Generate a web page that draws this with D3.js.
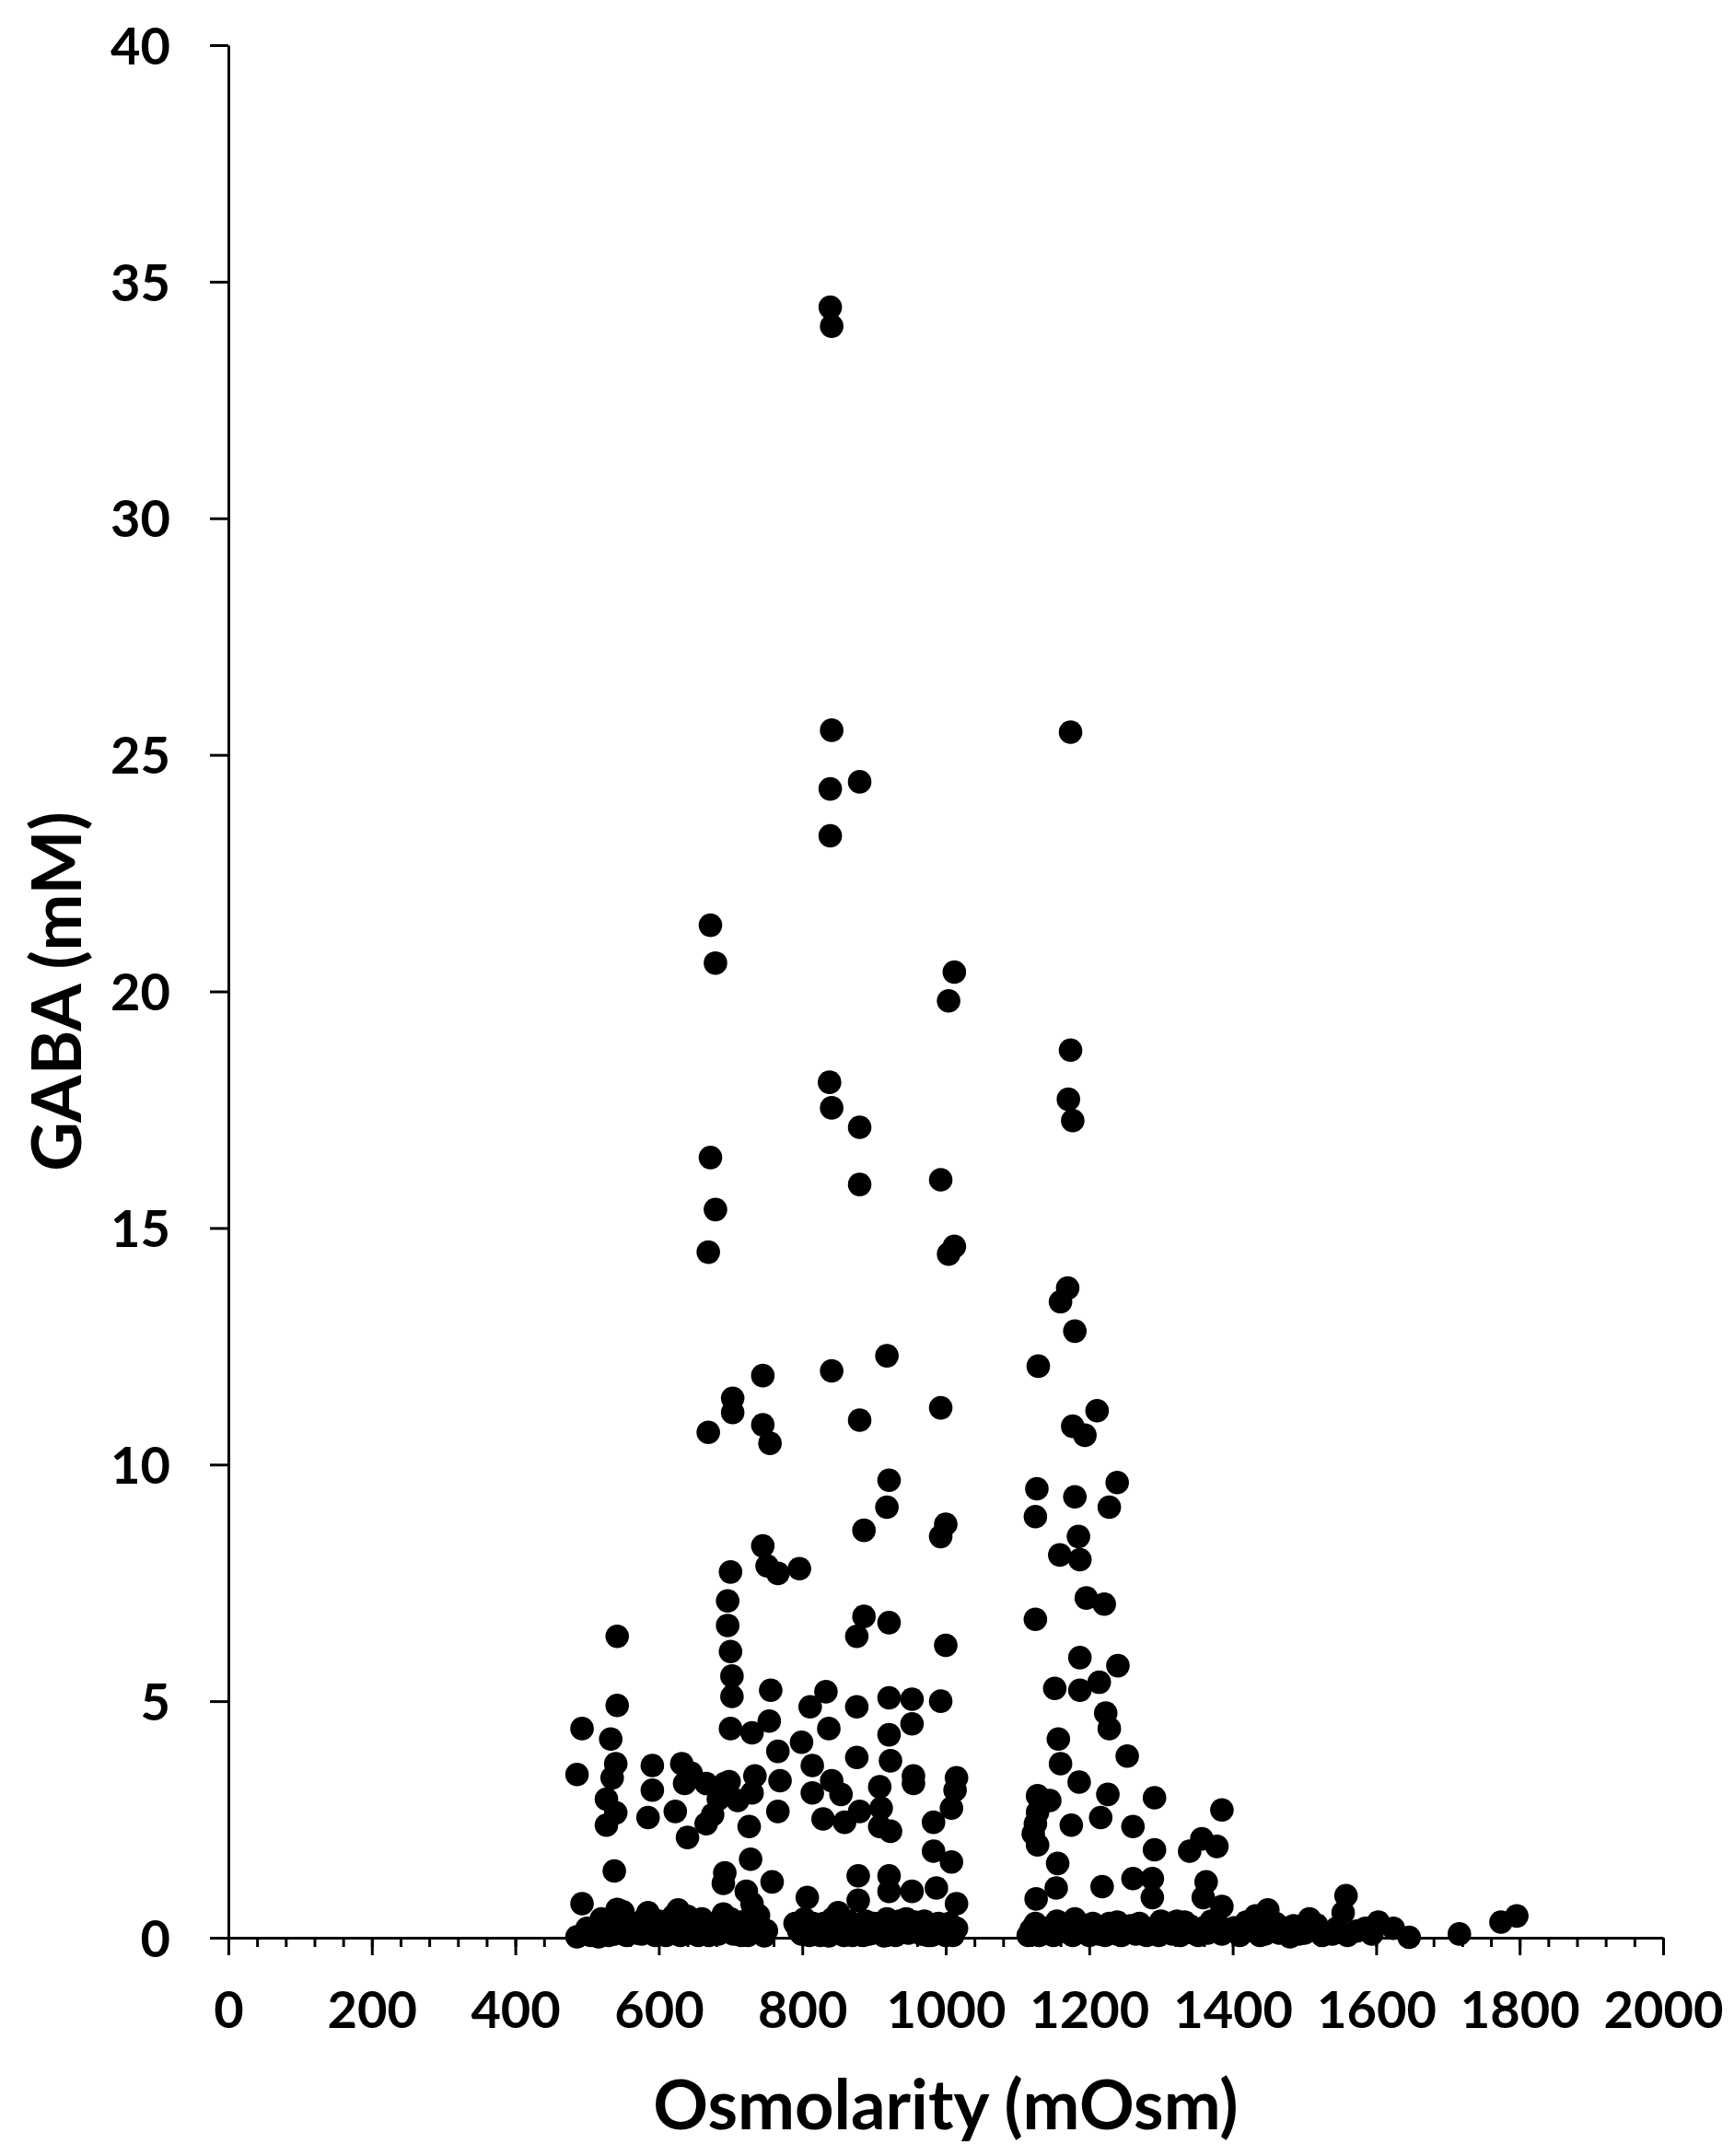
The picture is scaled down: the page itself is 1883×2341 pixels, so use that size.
<!DOCTYPE html>
<html>
<head>
<meta charset="utf-8">
<script src="https://cdn.jsdelivr.net/npm/d3@7"></script>
<style>
  body { margin: 0; background: #fff; }
</style>
</head>
<body>
<div id="wrapper"></div>
<script>
// values, [osmolarity (mOsm), GABA (mM)]
const group500 = [
  [486, 3.45], [493, 4.42], [493, 0.72], [486, 0.02], [516, 0.02], [533, 4.2],
  [540, 3.68], [535, 3.38], [527, 2.93], [540, 2.64], [527, 2.38], [542, 6.37],
  [542, 4.91], [538, 1.41], [542, 0.6], [550, 0.55], [538, 0.08], [527, 0.2],
  [560, 0.15], [500, 0.2], [550, 0.1], [565, 0.3], [591, 3.64], [591, 3.12],
  [585, 2.54], [585, 0.53], [576, 0.08], [602, 0.14], [590, 0.25], [610, 0.05],
  [632, 3.68], [645, 3.48], [636, 3.26], [623, 2.67], [640, 2.12], [627, 0.59],
  [623, 0.14], [649, 0.27], [640, 0.45], [505, 0.05], [520, 0.4], [530, 0.05],
  [545, 0.25], [555, 0.05], [570, 0.1], [580, 0.4], [595, 0.05], [600, 0.35],
  [615, 0.2], [620, 0.45], [630, 0.05], [645, 0.1], [655, 0.05]
]

const group700 = [
  [666, 3.26], [692, 3.26], [675, 2.6], [698, 3.3], [683, 2.93], [666, 2.41],
  [666, 0.14], [683, 0.08], [660, 0.4], [675, 0.25], [672, 21.4], [679, 20.6],
  [672, 16.49], [679, 15.39], [669, 14.49], [669, 10.68], [703, 11.4], [703, 11.1],
  [745, 11.88], [745, 10.84], [755, 10.45], [745, 8.28], [751, 7.86], [766, 7.7],
  [796, 7.8], [700, 7.73], [696, 7.12], [696, 6.6], [700, 6.05], [702, 5.53],
  [702, 5.1], [756, 5.23], [754, 4.58], [730, 4.33], [700, 4.42], [766, 3.94],
  [734, 3.42], [769, 3.32], [766, 2.67], [730, 3.06], [726, 2.35], [710, 2.9],
  [692, 1.37], [728, 1.66], [690, 1.15], [758, 1.18], [722, 0.98], [730, 0.72],
  [739, 0.47], [726, 0.14], [704, 0.08], [747, 0.04], [712, 0.3], [690, 0.5],
  [715, 0.05], [735, 0.25], [662, 0.2], [670, 0.05], [685, 0.35], [695, 0.2],
  [700, 0.4], [708, 0.15], [720, 0.35], [724, 0.05], [742, 0.2], [750, 0.15]
]

const group850 = [
  [839, 34.46], [841, 34.06], [841, 25.52], [839, 24.28], [880, 24.43], [839, 23.29],
  [838, 18.08], [841, 17.54], [880, 17.13], [880, 15.92], [841, 11.98], [880, 10.94],
  [886, 8.61], [876, 6.37], [886, 6.79], [833, 5.2], [811, 4.88], [837, 4.42],
  [799, 4.13], [814, 3.64], [841, 3.32], [854, 3.03], [814, 3.06], [829, 2.51],
  [859, 2.44], [880, 2.67], [876, 4.88], [876, 3.81], [807, 0.85], [799, 0.08],
  [820, 0.2], [850, 0.53], [837, 0.04], [863, 0.2], [878, 1.31], [878, 0.79],
  [893, 0.08], [790, 0.3], [810, 0.05], [830, 0.3], [845, 0.12], [870, 0.05],
  [900, 0.3], [795, 0.15], [803, 0.4], [815, 0.3], [825, 0.05], [835, 0.25],
  [842, 0.4], [855, 0.25], [858, 0.05], [865, 0.35], [875, 0.2], [885, 0.05],
  [888, 0.35], [898, 0.1]
]

const group950 = [
  [918, 12.3], [921, 9.67], [918, 9.1], [921, 6.66], [1000, 8.74], [993, 8.48],
  [1000, 6.18], [921, 5.07], [953, 5.04], [993, 5.0], [953, 4.52], [921, 4.29],
  [923, 3.74], [908, 3.19], [910, 2.74], [923, 2.25], [908, 2.35], [955, 3.42],
  [955, 3.26], [1015, 3.38], [1013, 3.12], [1008, 2.74], [983, 2.44], [983, 1.83],
  [1008, 1.6], [921, 1.31], [921, 0.98], [918, 0.4], [914, 0.04], [940, 0.2],
  [953, 0.98], [957, 0.33], [966, 0.08], [983, 0.2], [987, 1.05], [1015, 0.72],
  [1004, 19.8], [1012, 20.41], [993, 16.02], [1012, 14.61], [1004, 14.45], [993, 11.2],
  [1005, 0.3], [930, 0.05], [945, 0.4], [975, 0.05], [995, 0.15], [1010, 0.05],
  [905, 0.15], [912, 0.3], [925, 0.2], [935, 0.35], [948, 0.1], [960, 0.25],
  [970, 0.35], [980, 0.05], [990, 0.3], [1000, 0.05], [1015, 0.2]
]

const group1200 = [
  [1174, 25.48], [1174, 18.76], [1171, 17.72], [1177, 17.27], [1170, 13.73], [1160, 13.44],
  [1180, 12.82], [1129, 12.08], [1211, 11.14], [1177, 10.81], [1194, 10.62], [1239, 9.62],
  [1127, 9.49], [1125, 8.9], [1180, 9.32], [1228, 9.1], [1185, 8.48], [1159, 8.09],
  [1187, 7.99], [1196, 7.18], [1221, 7.05], [1125, 6.73], [1187, 5.92], [1240, 5.75],
  [1152, 5.27], [1187, 5.23], [1214, 5.4], [1223, 4.75], [1228, 4.42], [1157, 4.2],
  [1160, 3.68], [1253, 3.84], [1186, 3.29], [1128, 3.0], [1145, 2.9], [1128, 2.65],
  [1125, 2.41], [1122, 2.2], [1128, 1.96], [1175, 2.38], [1226, 3.03], [1216, 2.54],
  [1261, 2.35], [1156, 1.57], [1154, 1.05], [1126, 0.82], [1218, 1.08], [1261, 1.25],
  [1119, 0.17], [1145, 0.14], [1171, 0.11], [1192, 0.21], [1214, 0.08], [1239, 0.33],
  [1239, 0.08], [1265, 0.08], [1130, 0.05], [1160, 0.3], [1180, 0.4], [1200, 0.05],
  [1250, 0.2], [1115, 0.05], [1125, 0.3], [1137, 0.2], [1150, 0.05], [1155, 0.35],
  [1165, 0.2], [1177, 0.05], [1185, 0.25], [1205, 0.3], [1210, 0.15], [1222, 0.05],
  [1228, 0.3], [1245, 0.05], [1258, 0.25], [1270, 0.3]
]

const group1350 = [
  [1291, 2.96], [1385, 2.7], [1357, 2.09], [1378, 1.93], [1340, 1.83], [1291, 1.86],
  [1288, 1.25], [1288, 0.85], [1363, 1.18], [1359, 0.85], [1385, 0.66], [1291, 0.21],
  [1316, 0.08], [1333, 0.33], [1359, 0.21], [1385, 0.08], [1280, 0.05], [1300, 0.35],
  [1345, 0.1], [1370, 0.35], [1285, 0.15], [1297, 0.05], [1308, 0.25], [1322, 0.35],
  [1327, 0.05], [1340, 0.25], [1352, 0.05], [1365, 0.1], [1378, 0.3], [1392, 0.15]
]

const groupTail = [
  [1402, 0.21], [1419, 0.33], [1445, 0.08], [1470, 0.21], [1492, 0.08], [1517, 0.27],
  [1539, 0.08], [1573, 0.14], [1594, 0.08], [1410, 0.05], [1460, 0.3], [1480, 0.02],
  [1449, 0.59], [1432, 0.46], [1507, 0.4], [1558, 0.89], [1554, 0.53], [1603, 0.33],
  [1624, 0.2], [1646, 0.01], [1716, 0.08], [1774, 0.33], [1796, 0.46], [1425, 0.15],
  [1438, 0.05], [1455, 0.2], [1465, 0.1], [1485, 0.25], [1500, 0.1], [1525, 0.05],
  [1545, 0.2], [1560, 0.05], [1585, 0.2]
]

const xTicks = d3.range(0, 2001, 200)
const xMinorTicks = d3.range(0, 2001, 40)
const yTicks = d3.range(0, 41, 5)

const data = [].concat(group500, group700, group850, group950, group1200, group1350, groupTail)
const xAccessor = (d) => d[0]
const yAccessor = (d) => d[1]

const dimensions = {
  width: 1883,
  height: 2341,
  margins: { top: 49, right: 77, bottom: 237, left: 248 },
}
dimensions.boundedWidth = dimensions.width - dimensions.margins.left - dimensions.margins.right
dimensions.boundedHeight = dimensions.height - dimensions.margins.top - dimensions.margins.bottom

const fontFamily = "Lato, 'Open Sans', sans-serif"

const wrapper = d3.select("#wrapper")
  .append("svg")
  .attr("width", dimensions.width)
  .attr("height", dimensions.height)
  .style("background", "#fff")

const bounds = wrapper.append("g")
  .attr("transform", `translate(${dimensions.margins.left},${dimensions.margins.top})`)

const xScale = d3.scaleLinear()
  .domain([0, 2000])
  .range([0, dimensions.boundedWidth])

const yScale = d3.scaleLinear()
  .domain([0, 40])
  .range([dimensions.boundedHeight, 0])

// dots
bounds.append("g")
  .selectAll("circle")
  .data(data)
  .join("circle")
  .attr("cx", (d) => xScale(xAccessor(d)))
  .attr("cy", (d) => yScale(yAccessor(d)))
  .attr("r", 12.8)
  .attr("fill", "#000")

// axes
const xMinorAxis = bounds.append("g")
  .attr("transform", `translate(0,${dimensions.boundedHeight})`)
  .call(d3.axisBottom(xScale).tickValues(xMinorTicks).tickSize(10).tickSizeOuter(0).tickFormat(""))
xMinorAxis.select(".domain").remove()

const xAxis = bounds.append("g")
  .attr("transform", `translate(0,${dimensions.boundedHeight})`)
  .call(d3.axisBottom(xScale).tickValues(xTicks).tickSize(19).tickSizeOuter(0).tickFormat(d3.format("d")))

const yAxis = bounds.append("g")
  .call(d3.axisLeft(yScale).tickValues(yTicks).tickSize(20).tickSizeOuter(0).tickPadding(43).tickFormat(d3.format("d")))

bounds.selectAll(".domain, .tick line")
  .attr("stroke", "#000")
  .attr("stroke-width", 3)

xAxis.selectAll("text")
  .attr("y", 98)
  .attr("dy", null)
yAxis.selectAll("text")
  .attr("dy", "0.36em")

bounds.selectAll(".tick text")
  .attr("fill", "#000")
  .style("font-family", fontFamily)
  .style("font-weight", "bold")
  .style("font-size", "56px")

// axis titles
wrapper.append("text")
  .text("Osmolarity (mOsm)")
  .attr("x", dimensions.margins.left + dimensions.boundedWidth / 2)
  .attr("y", 2312)
  .attr("text-anchor", "middle")
  .style("font-family", fontFamily)
  .style("font-weight", "bold")
  .style("font-size", "74px")

wrapper.append("text")
  .text("GABA (mM)")
  .attr("transform", `translate(88,${dimensions.margins.top + dimensions.boundedHeight / 2}) rotate(-90)`)
  .attr("text-anchor", "middle")
  .style("font-family", fontFamily)
  .style("font-weight", "bold")
  .style("font-size", "74px")
</script>
</body>
</html>
